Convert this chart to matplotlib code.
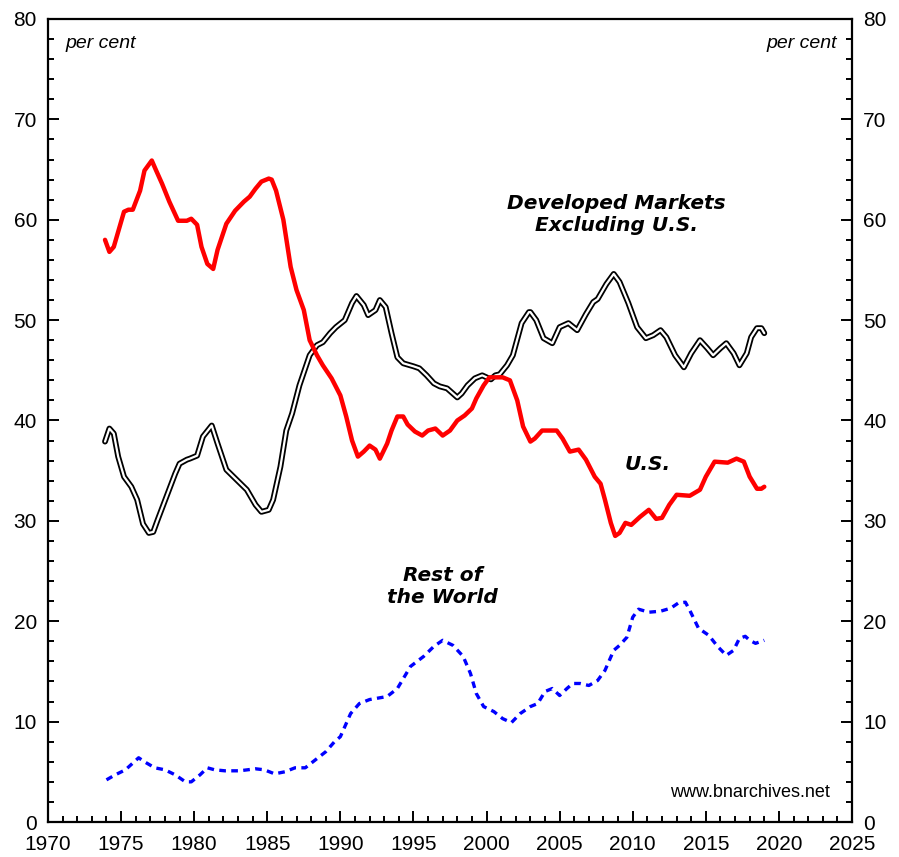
import matplotlib.pyplot as plt
from matplotlib.ticker import MultipleLocator

plt.rcParams['font.family'] = ['Liberation Sans', 'DejaVu Sans']

# ---- data ----
us_year = [1973.9, 1974.2, 1974.5, 1975.2, 1975.5, 1975.8, 1976.3, 1976.6, 1977.1,
           1977.4, 1977.8, 1978.3, 1978.9, 1979.5, 1979.8, 1980.2, 1980.5, 1980.9,
           1981.3, 1981.6, 1982.2, 1982.8, 1983.4, 1983.8, 1984.2, 1984.6, 1985.1,
           1985.3, 1985.6, 1986.1, 1986.6, 1987.0, 1987.5, 1987.9, 1988.4, 1988.8,
           1989.4, 1990.0, 1990.4, 1990.8, 1991.2, 1991.6, 1992.0, 1992.4, 1992.7,
           1993.2, 1993.5, 1993.9, 1994.3, 1994.6, 1995.1, 1995.6, 1996.0, 1996.5,
           1997.0, 1997.5, 1998.0, 1998.5, 1999.0, 1999.3, 1999.8, 2000.2, 2000.7,
           2001.1, 2001.6, 2002.1, 2002.5, 2003.0, 2003.3, 2003.8, 2004.8, 2005.2,
           2005.7, 2006.3, 2006.8, 2007.4, 2007.8, 2008.1, 2008.5, 2008.8, 2009.1,
           2009.5, 2009.9, 2010.5, 2011.1, 2011.6, 2012.0, 2012.5, 2013.0, 2013.9,
           2014.6, 2015.0, 2015.6, 2016.5, 2017.1, 2017.6, 2018.0, 2018.5, 2018.8,
           2019.0]
us_share = [58.0, 56.8, 57.3, 60.8, 61.0, 61.0, 62.9, 64.9, 65.9,
            64.9, 63.6, 61.8, 59.9, 59.9, 60.1, 59.5, 57.3, 55.6,
            55.1, 57.0, 59.6, 60.9, 61.8, 62.3, 63.1, 63.8, 64.1,
            64.0, 62.9, 60.0, 55.3, 53.0, 51.0, 48.0, 46.5, 45.5,
            44.2, 42.5, 40.4, 38.0, 36.4, 36.9, 37.5, 37.1, 36.2,
            37.7, 39.0, 40.4, 40.4, 39.6, 38.9, 38.5, 39.0, 39.2,
            38.5, 39.0, 40.0, 40.5, 41.2, 42.2, 43.5, 44.3, 44.3,
            44.3, 44.0, 42.0, 39.4, 37.9, 38.2, 39.0, 39.0, 38.2,
            36.9, 37.1, 36.1, 34.4, 33.7, 32.1, 29.8, 28.5, 28.8,
            29.8, 29.6, 30.4, 31.1, 30.2, 30.3, 31.6, 32.6, 32.5,
            33.1, 34.4, 35.9, 35.8, 36.2, 35.9, 34.4, 33.2, 33.2,
            33.4]

dm_year = [1973.9, 1974.2, 1974.5, 1974.8, 1975.2, 1975.7, 1976.1, 1976.5, 1976.9,
           1977.2, 1977.5, 1978.1, 1978.7, 1979.0, 1979.5, 1979.7, 1980.2, 1980.6,
           1981.2, 1981.6, 1982.2, 1982.9, 1983.6, 1984.2, 1984.6, 1985.1, 1985.4,
           1985.9, 1986.3, 1986.7, 1987.2, 1987.9, 1988.4, 1988.8, 1989.3, 1989.7,
           1990.3, 1990.8, 1991.1, 1991.6, 1991.9, 1992.4, 1992.7, 1993.1, 1993.5,
           1993.9, 1994.3, 1995.0, 1995.4, 1995.9, 1996.4, 1996.8, 1997.3, 1998.0,
           1998.3, 1998.7, 1999.2, 1999.7, 2000.0, 2000.3, 2000.6, 2000.9, 2001.4,
           2001.8, 2002.4, 2002.9, 2003.0, 2003.4, 2003.9, 2004.5, 2005.0, 2005.6,
           2006.2, 2006.8, 2007.3, 2007.6, 2008.2, 2008.7, 2009.1, 2009.7, 2010.3,
           2010.9, 2011.4, 2011.9, 2012.3, 2012.9, 2013.5, 2014.0, 2014.6, 2015.1,
           2015.5, 2016.0, 2016.4, 2016.9, 2017.3, 2017.8, 2018.1, 2018.5, 2018.8,
           2019.0]
dm_share = [37.9, 39.2, 38.7, 36.4, 34.4, 33.4, 32.1, 29.7, 28.8,
            28.9, 30.1, 32.4, 34.7, 35.7, 36.1, 36.2, 36.5, 38.4,
            39.5, 37.7, 35.1, 34.1, 33.1, 31.6, 30.9, 31.1, 32.1,
            35.4, 39.0, 40.7, 43.5, 46.5, 47.5, 47.8, 48.7, 49.3,
            50.0, 51.7, 52.4, 51.5, 50.5, 51.0, 52.0, 51.3, 48.7,
            46.3, 45.7, 45.4, 45.2, 44.5, 43.7, 43.4, 43.2, 42.3,
            42.7, 43.5, 44.2, 44.5, 44.3, 44.1, 44.5, 44.6, 45.5,
            46.5, 49.7, 50.8, 50.8, 50.0, 48.2, 47.7, 49.3, 49.7,
            49.0, 50.6, 51.8, 52.1, 53.6, 54.6, 53.8, 51.7, 49.3,
            48.2, 48.5, 49.0, 48.3, 46.5, 45.3, 46.7, 48.0, 47.2,
            46.5, 47.2, 47.7, 46.7, 45.5, 46.7, 48.3, 49.2, 49.2,
            48.7]

row_year = [1974.0, 1974.6, 1975.3, 1976.2, 1976.6, 1977.3, 1978.0, 1978.7, 1979.4,
            1979.8, 1980.4, 1980.9, 1981.4, 1982.1, 1983.1, 1984.2, 1984.8, 1985.5,
            1986.2, 1986.9, 1987.6, 1988.3, 1989.0, 1989.6, 1990.0, 1990.7, 1991.3,
            1992.0, 1993.2, 1993.9, 1994.8, 1995.7, 1996.4, 1997.0, 1997.7, 1998.4,
            1998.9, 1999.3, 1999.8, 2000.5, 2001.1, 2001.7, 2002.3, 2003.0, 2003.5,
            2004.0, 2004.5, 2005.0, 2005.5, 2005.9, 2006.4, 2007.0, 2007.6, 2008.1,
            2008.7, 2009.1, 2009.6, 2010.0, 2010.4, 2011.1, 2011.9, 2012.6, 2013.1,
            2013.6, 2013.9, 2014.5, 2015.2, 2015.8, 2016.4, 2016.9, 2017.3, 2017.7,
            2018.0, 2018.4, 2018.8, 2019.0]
row_share = [4.2, 4.7, 5.2, 6.4, 6.0, 5.4, 5.2, 4.7, 4.0,
             4.0, 4.7, 5.4, 5.2, 5.1, 5.1, 5.3, 5.2, 4.8,
             5.0, 5.4, 5.4, 6.2, 7.0, 8.0, 8.5, 10.8, 11.8,
             12.2, 12.5, 13.3, 15.5, 16.5, 17.5, 18.1, 17.6, 16.5,
             14.8, 12.8, 11.5, 11.0, 10.3, 9.9, 10.8, 11.5, 11.8,
             13.0, 13.3, 12.6, 13.3, 13.8, 13.8, 13.6, 14.1, 15.1,
             17.1, 17.6, 18.4, 20.4, 21.2, 20.9, 21.0, 21.3, 21.8,
             21.9, 21.1, 19.3, 18.6, 17.5, 16.6, 17.1, 18.3, 18.5,
             18.1, 17.8, 18.0, 18.1]

# ==============================
# FIGURE
# ==============================
fig = plt.figure(figsize=(8.99, 8.57), dpi=100)
ax = fig.add_axes([48 / 899, 35 / 857, 804 / 899, 803 / 857])

# developed markets ex US: double line (black outline, white core)
ax.plot(dm_year, dm_share, color='black', lw=4.2, solid_joinstyle='round',
        solid_capstyle='round', zorder=3)
ax.plot(dm_year, dm_share, color='white', lw=1.6, solid_joinstyle='round',
        solid_capstyle='round', zorder=4)
ax.plot(us_year, us_share, color='#ff0000', lw=3.2, solid_joinstyle='round',
        solid_capstyle='round', zorder=5)
ax.plot(row_year, row_share, color='#0000ff', lw=2.4, ls=(0, (2.0, 1.6)), zorder=2)

ax.set_xlim(1970, 2025)
ax.set_ylim(0, 80)

# ticks
ax.xaxis.set_major_locator(MultipleLocator(5))
ax.xaxis.set_minor_locator(MultipleLocator(1))
ax.yaxis.set_major_locator(MultipleLocator(10))
ax.yaxis.set_minor_locator(MultipleLocator(2))
ax.tick_params(axis='both', which='both', direction='in', top=False,
               right=True, labelright=True, labelsize=15, width=1.4)
ax.tick_params(which='major', length=8)
ax.tick_params(which='minor', length=4)
ax.tick_params(axis='x', pad=9)
ax.tick_params(axis='y', pad=8)

for s in ax.spines.values():
    s.set_linewidth(1.6)

# annotations
note_font = dict(family='DejaVu Sans', style='oblique', weight='bold', fontsize=14.5)
ax.text(1971.2, 77.6, "per cent", fontsize=14, style='italic', va='center')
ax.text(2024.0, 77.6, "per cent", fontsize=14, style='italic', va='center', ha='right')
ax.text(2008.9, 60.5, "Developed Markets\nExcluding U.S.", ha='center', va='center',
        linespacing=1.2, **note_font)
ax.text(2011.0, 35.6, "U.S.", ha='center', va='center', **note_font)
ax.text(1997.0, 23.5, "Rest of\nthe World", ha='center', va='center',
        linespacing=1.2, **note_font)
ax.text(2023.5, 2.9, "www.bnarchives.net", fontsize=13, ha='right', va='center')

plt.savefig("out.png", dpi=100)
